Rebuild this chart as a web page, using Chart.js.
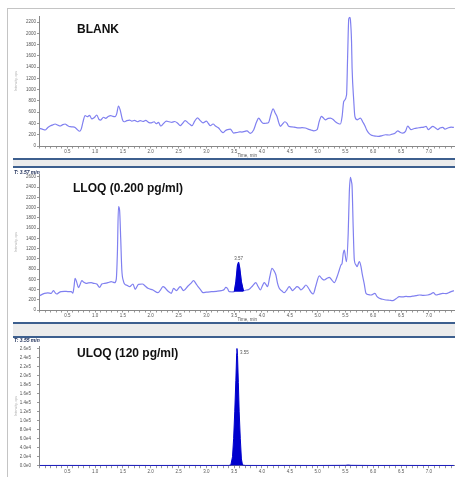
<!DOCTYPE html>
<html>
<head>
<meta charset="utf-8">
<script src="https://cdn.jsdelivr.net/npm/chart.js@4/dist/chart.umd.min.js"></script>
<style>
  body { margin: 0; width: 455px; height: 477px; background: #fff; position: relative; overflow: hidden; font-family: 'Liberation Sans', Arial, sans-serif; }
  .frame-top { position: absolute; left: 7px; top: 8px; width: 448px; height: 1px; background: #c4c4c4; }
  .frame-left { position: absolute; left: 7px; top: 8px; width: 1px; height: 469px; background: #c4c4c4; }
  .band { position: absolute; left: 13px; right: 0; background: #ececec; border-top: 2px solid #3d5f8e; border-bottom: 2px solid #3d5f8e; box-sizing: border-box; }
  canvas { position: absolute; left: 8px; }
  .title { position: absolute; font-weight: bold; font-size: 12px; line-height: 12px; color: #111; z-index: 2; white-space: nowrap; }
  .xic { position: absolute; left: 14px; font-size: 5px; line-height: 5px; font-weight: bold; font-style: italic; color: #1a2a55; z-index: 2; white-space: nowrap; }
</style>
</head>
<body>
<div class="frame-top"></div>
<div class="frame-left"></div>

<canvas id="blank" width="447" height="149" style="top:9px"></canvas>
<div class="band" style="top:158px; height:10px"></div>
<canvas id="lloq" width="447" height="154" style="top:168px"></canvas>
<div class="band" style="top:322px; height:16px"></div>
<canvas id="uloq" width="447" height="139" style="top:338px"></canvas>

<div class="title" style="left:77px; top:23px">BLANK</div>
<div class="title" style="left:73px; top:181.5px">LLOQ (0.200 pg/ml)</div>
<div class="title" style="left:77px; top:346.5px">ULOQ (120 pg/ml)</div>
<div class="xic" style="top:169.5px">T: 3.57 min</div>
<div class="xic" style="top:337.5px">T: 3.55 min</div>

<script>
// x axis labels (min), shared by the three panels
const timeTickLabels = ['0.5', '1.0', '1.5', '2.0', '2.5', '3.0', '3.5', '4.0', '4.5', '5.0', '5.5', '6.0', '6.5', '7.0']

// BLANK
const blankTime = [
  0.00, 0.05, 0.10, 0.15, 0.19, 0.24, 0.28, 0.33, 0.37, 0.42, 0.46, 0.50, 0.55, 0.60, 0.64, 0.68, 0.72, 0.75, 0.78, 0.82,
  0.86, 0.90, 0.94, 0.98, 1.03, 1.07, 1.10, 1.15, 1.19, 1.23, 1.28, 1.32, 1.36, 1.39, 1.42, 1.45, 1.49, 1.52, 1.57, 1.62,
  1.66, 1.71, 1.76, 1.81, 1.86, 1.91, 1.96, 2.01, 2.06, 2.10, 2.14, 2.18, 2.23, 2.28, 2.33, 2.38, 2.43, 2.48, 2.53, 2.57,
  2.62, 2.67, 2.71, 2.74, 2.79, 2.84, 2.89, 2.94, 3.00, 3.04, 3.07, 3.12, 3.17, 3.22, 3.26, 3.30, 3.34, 3.38, 3.43, 3.49,
  3.55, 3.60, 3.64, 3.69, 3.73, 3.79, 3.85, 3.90, 3.94, 3.99, 4.03, 4.08, 4.12, 4.16, 4.20, 4.24, 4.27, 4.30, 4.33, 4.37,
  4.41, 4.45, 4.48, 4.54, 4.60, 4.66, 4.72, 4.78, 4.84, 4.89, 4.93, 4.99, 5.03, 5.07, 5.10, 5.14, 5.19, 5.23, 5.28, 5.32,
  5.37, 5.41, 5.44, 5.47, 5.52, 5.54, 5.56, 5.58, 5.59, 5.61, 5.62, 5.65, 5.67, 5.71, 5.74, 5.77, 5.81, 5.85, 5.88, 5.92,
  5.96, 6.01, 6.05, 6.10, 6.16, 6.22, 6.28, 6.34, 6.39, 6.44, 6.49, 6.53, 6.58, 6.62, 6.65, 6.68, 6.74, 6.80, 6.86, 6.91,
  6.95, 6.99, 7.03, 7.07, 7.12, 7.16, 7.20, 7.25, 7.29, 7.34, 7.40, 7.45
]
const blankIntensity = [
  314, 300, 284, 330, 355, 375, 390, 370, 355, 380, 390, 365, 343, 340, 330, 290, 262, 300, 420, 540,
  520, 545, 480, 500, 550, 470, 460, 510, 490, 520, 540, 525, 520, 580, 710, 640, 470, 430, 450, 460,
  440, 455, 430, 450, 435, 455, 420, 410, 430, 395, 420, 355, 400, 440, 430, 420, 435, 410, 360, 400,
  450, 410, 380, 360, 440, 500, 450, 410, 440, 395, 360, 390, 350, 320, 270, 235, 272, 290, 300, 230,
  240, 250, 248, 260, 270, 225, 285, 420, 495, 430, 400, 405, 420, 560, 660, 580, 525, 420, 350, 390,
  430, 400, 350, 340, 330, 320, 325, 320, 295, 280, 270, 290, 440, 525, 500, 465, 490, 495, 470, 430,
  400, 390, 520, 790, 905, 1600, 2255, 2283, 2240, 1850, 1380, 800, 525, 465, 480, 495, 430, 360, 290, 228,
  195, 180, 175, 170, 185, 200, 195, 210, 225, 270, 240, 230, 260, 355, 320, 290, 310, 320, 330, 335,
  350, 290, 320, 350, 320, 290, 320, 330, 300, 320, 335, 330
]
const blankTicks = [0, 200, 400, 600, 800, 1000, 1200, 1400, 1600, 1800, 2000, 2200]

// LLOQ (0.200 pg/ml)
const lloqTime = [
  0.00, 0.04, 0.09, 0.15, 0.21, 0.25, 0.28, 0.31, 0.35, 0.39, 0.45, 0.51, 0.57, 0.60, 0.62, 0.64, 0.67, 0.70, 0.73, 0.76,
  0.80, 0.84, 0.88, 0.93, 0.98, 1.03, 1.08, 1.12, 1.17, 1.23, 1.29, 1.32, 1.35, 1.38, 1.40, 1.42, 1.44, 1.46, 1.48, 1.51,
  1.53, 1.58, 1.62, 1.68, 1.72, 1.78, 1.85, 1.90, 1.95, 2.04, 2.13, 2.18, 2.22, 2.26, 2.29, 2.33, 2.37, 2.41,
  2.46, 2.53, 2.59, 2.67, 2.72, 2.77, 2.81, 2.85, 2.90, 2.94, 3.00, 3.09, 3.18, 3.27, 3.32, 3.35, 3.38, 3.41, 3.46, 3.50,
  3.53, 3.56, 3.58, 3.60, 3.63, 3.66, 3.68, 3.72, 3.77, 3.83, 3.89, 3.93, 3.97, 4.01, 4.04, 4.07, 4.10, 4.14, 4.18, 4.22,
  4.25, 4.28, 4.31, 4.36, 4.40, 4.45, 4.49, 4.52, 4.55, 4.59, 4.63, 4.67, 4.70, 4.75, 4.79, 4.84, 4.88, 4.92, 4.97, 5.03,
  5.08, 5.12, 5.17, 5.21, 5.26, 5.30, 5.35, 5.39, 5.42, 5.44, 5.46, 5.48, 5.50, 5.52, 5.55, 5.57, 5.59, 5.61, 5.62, 5.64,
  5.66, 5.69, 5.71, 5.73, 5.75, 5.78, 5.80, 5.84, 5.87, 5.92, 5.96, 6.03, 6.07, 6.11, 6.17, 6.23, 6.29, 6.35, 6.41, 6.47,
  6.53, 6.59, 6.65, 6.71, 6.77, 6.83, 6.90, 6.98, 7.03, 7.08, 7.13, 7.19, 7.25, 7.31, 7.38, 7.45
]
const lloqIntensity = [
  280, 300, 326, 335, 326, 378, 340, 313, 340, 358, 365, 360, 358, 330, 450, 620, 540, 436, 500, 573,
  540, 521, 530, 534, 520, 508, 443, 508, 520, 534, 554, 545, 534, 600, 1100, 2020, 1950, 1400, 782, 560,
  508, 480, 456, 508, 404, 502, 508, 470, 424, 391, 339, 400, 456, 430, 391, 350, 326, 424,
  378, 456, 378, 469, 520, 573, 520, 456, 390, 339, 350, 358, 365, 378, 400, 443, 420, 358, 355, 358,
  550, 880, 932, 820, 550, 390, 378, 390, 404, 470, 534, 460, 391, 480, 534, 500, 456, 650, 815, 760,
  684, 520, 424, 370, 339, 400, 456, 420, 378, 420, 456, 430, 391, 440, 489, 420, 350, 313, 480, 665,
  610, 586, 620, 638, 580, 534, 650, 782, 880, 913, 1100, 1173, 1050, 945, 1500, 2300, 2594, 2500, 2411, 1600,
  978, 880, 847, 900, 945, 850, 717, 500, 326, 300, 293, 326, 260, 228, 210, 196, 190, 183, 220, 261,
  255, 265, 261, 270, 280, 293, 285, 293, 310, 339, 293, 310, 326, 320, 350, 378
]
const lloqPeakTime = [3.50, 3.53, 3.56, 3.58, 3.60, 3.63, 3.67]
const lloqPeakIntensity = [358, 550, 880, 932, 820, 550, 370]
const lloqTicks = [0, 200, 400, 600, 800, 1000, 1200, 1400, 1600, 1800, 2000, 2200, 2400, 2600]

// ULOQ (120 pg/ml)
const uloqTime = [
  0.0, 0.5, 1.0, 1.5, 2.0, 2.5, 3.0, 3.40, 3.44, 3.47, 3.49, 3.51, 3.53, 3.545, 3.55, 3.56, 3.575, 3.59, 3.61, 3.63,
  3.65, 3.70, 4.0, 4.5, 5.0, 5.5, 5.55, 5.6, 6.0, 6.5, 7.0, 7.45
]
const uloqIntensity = [
  500, 600, 500, 700, 500, 600, 500, 600, 1500, 20000, 60000, 120000, 190000, 250000, 261000, 245000, 185000, 120000, 60000, 15000,
  1500, 600, 500, 600, 500, 800, 1500, 800, 500, 600, 500, 500
]
const uloqTicks = [0, 20000, 40000, 60000, 80000, 100000, 120000, 140000, 160000, 180000, 200000, 220000, 240000, 260000]

const minorTicks = Array.from({ length: 75 }, (_, i) => i / 10)
const toPoints = (xs, ys) => xs.map((x, i) => ({ x: x, y: ys[i] }))

const peakLabel = {
  id: 'peakLabel',
  afterDatasetsDraw (chart, args, opts) {
    if (!opts.text) return
    const ctx = chart.ctx
    const px = chart.scales.x.getPixelForValue(opts.x)
    const py = chart.scales.y.getPixelForValue(opts.y)
    ctx.save()
    ctx.font = '4.5px "Liberation Sans", Arial'
    ctx.fillStyle = '#555'
    ctx.textAlign = opts.align
    ctx.textBaseline = opts.baseline
    ctx.fillText(opts.text, px + opts.dx, py + opts.dy)
    ctx.restore()
  }
}

const makePanel = (id, p) => new Chart(document.getElementById(id), {
  type: 'line',
  data: { datasets: p.datasets },
  plugins: [peakLabel],
  options: {
    responsive: false,
    animation: false,
    layout: { padding: { top: p.padTop, right: 0, left: 0, bottom: 0 } },
    plugins: {
      legend: { display: false },
      tooltip: { enabled: false },
      peakLabel: p.label
    },
    scales: {
      x: {
        type: 'linear',
        min: 0,
        max: 7.47,
        afterBuildTicks: s => { s.ticks = minorTicks.map(v => ({ value: v })) },
        afterFit: s => { s.height = p.xHeight },
        ticks: {
          autoSkip: false,
          maxRotation: 0,
          padding: 1,
          color: '#555',
          font: { size: 4.5 },
          callback: v => timeTickLabels.includes(v.toFixed(1)) ? v.toFixed(1) : ''
        },
        grid: { drawOnChartArea: false, tickLength: 2.5, color: '#999' },
        border: { color: '#888', width: 1 },
        title: { display: p.timeTitle, text: 'Time, min', color: '#555', font: { size: 4.5 }, padding: 0 }
      },
      y: {
        min: 0,
        max: p.yMax,
        afterBuildTicks: s => { s.ticks = p.yTicks.map(v => ({ value: v })) },
        afterFit: s => { s.width = 31.5 },
        ticks: {
          padding: p.tickPad,
          color: '#555',
          font: { size: 4.5 },
          callback: p.yFormat
        },
        grid: { drawOnChartArea: false, tickLength: 2.5, color: '#999' },
        border: { color: '#888', width: 1 },
        title: { display: true, text: 'Intensity, cps', color: '#aaa', font: { size: 3.5 }, padding: { top: 6, bottom: 0 } }
      }
    }
  }
})

const traceColor = 'rgb(128,128,240)'
const peakColor = 'rgb(0,0,205)'
const lineStyle = { borderColor: traceColor, borderWidth: 1.2, pointRadius: 0, cubicInterpolationMode: 'monotone', fill: false }

makePanel('blank', {
  datasets: [Object.assign({ data: toPoints(blankTime, blankIntensity) }, lineStyle)],
  yTicks: blankTicks,
  yMax: 2300,
  padTop: 7.4,
  xHeight: 12,
  tickPad: 1,
  timeTitle: true,
  yFormat: v => String(v),
  label: {}
})

makePanel('lloq', {
  datasets: [
    {
      data: toPoints(lloqPeakTime, lloqPeakIntensity),
      borderColor: peakColor,
      backgroundColor: peakColor,
      borderWidth: 1,
      pointRadius: 0,
      fill: { value: 358 }
    },
    Object.assign({ data: toPoints(lloqTime, lloqIntensity) }, lineStyle)
  ],
  yTicks: lloqTicks,
  yMax: 2650,
  padTop: 6.4,
  xHeight: 12,
  tickPad: 1,
  timeTitle: true,
  yFormat: v => String(v),
  label: { text: '3.57', x: 3.58, y: 932, dx: 0, dy: -1.5, align: 'center', baseline: 'bottom' }
})

makePanel('uloq', {
  datasets: [{
    data: toPoints(uloqTime, uloqIntensity),
    borderColor: peakColor,
    backgroundColor: peakColor,
    borderWidth: 1,
    pointRadius: 0,
    fill: 'origin'
  }],
  yTicks: uloqTicks,
  yMax: 265000,
  padTop: 4,
  xHeight: 11.3,
  tickPad: 6,
  timeTitle: false,
  yFormat: v => v.toExponential(1).replace('e+', 'e'),
  label: { text: '3.55', x: 3.55, y: 261000, dx: 3, dy: 4, align: 'left', baseline: 'middle' }
})
</script>
</body>
</html>
